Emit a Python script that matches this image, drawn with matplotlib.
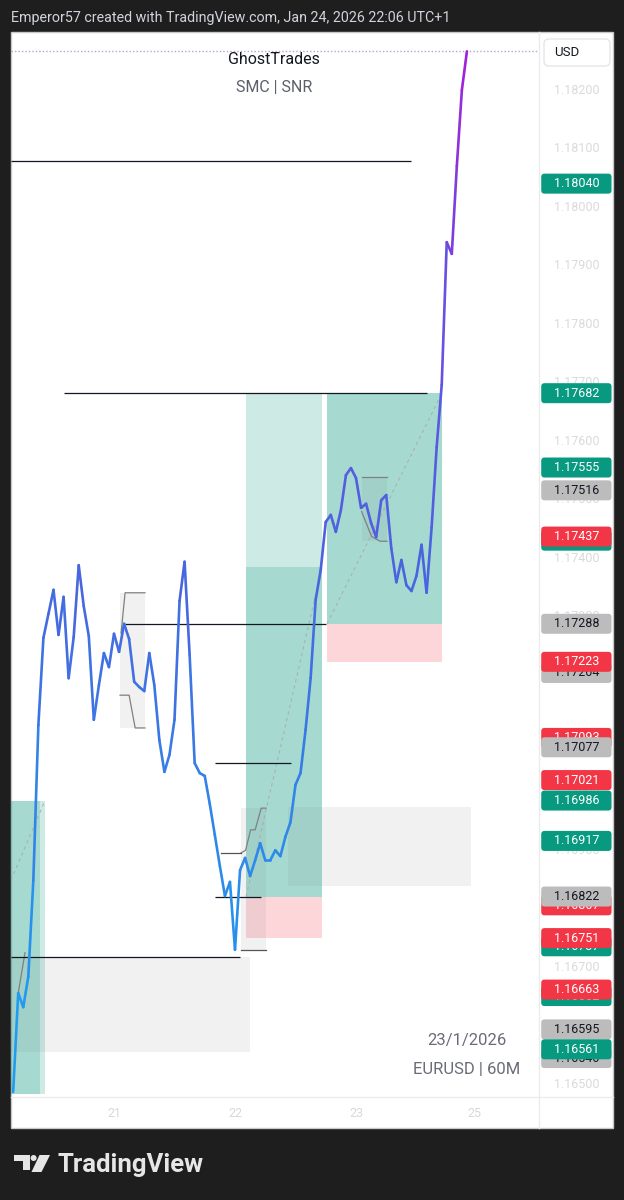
import numpy as np
import matplotlib.pyplot as plt
from matplotlib.collections import LineCollection
from matplotlib.colors import LinearSegmentedColormap, Normalize
from matplotlib.patches import Rectangle, FancyBboxPatch, Circle, Polygon

plt.rcParams['font.family'] = ['Roboto', 'DejaVu Sans']

# EURUSD 60M closes, x = hours counted from the start of Jan 21
hours = list(range(-20, 71))
closes = [1.16488, 1.16657, 1.16633, 1.16685, 1.16850, 1.17115, 1.17264, 1.17305,
          1.17346, 1.17269, 1.17334, 1.17195, 1.17265, 1.17388, 1.17318, 1.17267,
          1.17124, 1.17183, 1.17238, 1.17214, 1.17271, 1.17240, 1.17288, 1.17262,
          1.17189, 1.17180, 1.17173, 1.17238, 1.17183, 1.17089, 1.17035, 1.17064,
          1.17124, 1.17327, 1.17394, 1.17235, 1.17050, 1.17033, 1.17028, 1.16980,
          1.16927, 1.16874, 1.16823, 1.16847, 1.16731, 1.16867, 1.16888, 1.16857,
          1.16884, 1.16913, 1.16884, 1.16884, 1.16901, 1.16891, 1.16924, 1.16949,
          1.17013, 1.17033, 1.17107, 1.17195, 1.17329, 1.17380, 1.17462, 1.17474,
          1.17445, 1.17482, 1.17542, 1.17554, 1.17537, 1.17486, 1.17493, 1.17460,
          1.17436, 1.17499, 1.17508, 1.17417, 1.17359, 1.17397, 1.17354, 1.17344,
          1.17370, 1.17423, 1.17341, 1.17453, 1.17590, 1.17696, 1.17940, 1.17920,
          1.18070, 1.18200, 1.18266]

day_ticks = [0, 24, 48, 71.4]
day_labels = ['21', '22', '23', '25']

# horizontal levels drawn on the chart
level_prices = [1.18079, 1.17682, 1.17288, 1.17050, 1.16822, 1.16719]
level_start = [-20.4, -9.9, 2.2, 20.0, 20.0, -20.4]
level_end = [58.9, 62.1, 42.0, 35.1, 29.2, 25.0]

# long position zones (start hour, end hour, low, high, alpha)
profit_zones = [(26.2, 41.25, 1.17385, 1.17682, 0.2),
                (26.2, 41.25, 1.16822, 1.17385, 0.36),
                (42.25, 65.05, 1.17288, 1.17682, 0.36),
                (-20.43, -14.68, 1.16485, 1.16986, 0.36),
                (-14.68, -13.69, 1.16485, 1.16986, 0.2)]
stop_zones = [(26.2, 41.25, 1.16751, 1.16822),
              (42.25, 65.05, 1.17223, 1.17288)]
# entry -> target dashed guides
guide_x = [(26.2, 41.25), (42.25, 65.05), (-20.43, -13.69)]
guide_p = [(1.16822, 1.17385), (1.17288, 1.17682), (1.16850, 1.16986)]

# grey supply/demand boxes (start, end, low, high)
grey_boxes = [(-20.43, 26.97, 1.16556, 1.16719),
              (34.5, 70.8, 1.16840, 1.16975),
              (1.19, 6.15, 1.17110, 1.17341),
              (25.19, 30.15, 1.16731, 1.16973),
              (49.19, 54.15, 1.17429, 1.17539)]
# small grey step lines inside the boxes
steps_x = [[1.4, 2.2, 6.15], [1.2, 3.0, 4.2, 6.15],
           [25.1, 26.1, 27.1, 28.0, 29.2, 30.15],
           [49.1, 54.15], [49.1, 51.1, 52.8, 54.15], [-19.0, -17.65]]
steps_p = [[1.17272, 1.17341, 1.17341], [1.17166, 1.17166, 1.17110, 1.17110],
           [1.16896, 1.16901, 1.16936, 1.16936, 1.16973, 1.16973],
           [1.17539, 1.17539], [1.17480, 1.17437, 1.17429, 1.17429], [1.16657, 1.16726]]
short_x = [(21.2, 25.1), (25.1, 30.15)]
short_p = [1.16896, 1.16731]

# price scale tags in drawing order (price, kind)
tag_prices = [1.18040, 1.17682, 1.17555, 1.17516, 1.17430, 1.17437, 1.17288, 1.17204,
              1.17223, 1.17093, 1.17077, 1.17021, 1.16986, 1.16917, 1.16807, 1.16822,
              1.16737, 1.16751, 1.16652, 1.16663, 1.16595, 1.16546, 1.16561]
tag_kinds = ['g', 'g', 'g', 'k', 'g', 'r', 'k', 'k', 'r', 'r', 'k', 'r', 'g', 'g', 'r',
             'k', 'g', 'r', 'g', 'r', 'k', 'k', 'g']
scale_ticks = [1.165 + 0.001 * i for i in range(18)]

W, H = 624, 1200
L, R, AX, T, B, PB = 11, 613, 539, 32, 1097, 1128
ppu = 58529          # pixels per 1.0 of price
pxh = 121 / 24       # pixels per hour

def fx(px):
    return px / W

def fy(py):
    return 1 - py / H

fig = plt.figure(figsize=(W / 100, H / 100), dpi=100, facecolor='#1e1e1e')

bg = fig.add_axes([0, 0, 1, 1], zorder=-5)
bg.set_xlim(0, W)
bg.set_ylim(H, 0)
bg.axis('off')
bg.add_patch(Rectangle((L, T), R - L, PB - T, fc='white', ec='#c8c8c8', lw=1))
bg.plot([AX, AX], [T, PB], color='#ebebeb', lw=1)
bg.plot([L, R], [B, B], color='#ebebeb', lw=1)
bg.add_patch(FancyBboxPatch((544, 39), 66, 27, boxstyle='round,pad=0,rounding_size=5',
                            fc='white', ec='#e6e6e6', lw=1))
# TradingView logo
logo = '#e6e6e6'
bg.add_patch(Polygon([(14, 1155), (30, 1155), (30, 1170), (22.5, 1170), (22.5, 1161), (14, 1161)],
                     fc=logo, ec='none'))
bg.add_patch(Circle((33.6, 1158), 3.0, fc=logo, ec='none'))
bg.add_patch(Polygon([(39.5, 1155), (50, 1155), (41.5, 1172), (31.5, 1172)], fc=logo, ec='none'))

ax = fig.add_axes([fx(L), fy(B), fx(AX) - fx(L), fy(T) - fy(B)])
ax.set_facecolor('none')
ymin, ymax = 1.182 - (B - 90) / ppu, 1.182 + (90 - T) / ppu
ax.set_ylim(ymin, ymax)
ax.set_xlim((L - 114) / pxh, (AX - 114) / pxh)
for s in ax.spines.values():
    s.set_visible(False)
ax.set_yticks([])
ax.set_xticks(day_ticks, day_labels)
ax.tick_params(axis='x', length=0, pad=7, labelsize=9, labelcolor='#d8d8d8')

for x0, x1, lo, hi, a in profit_zones:
    ax.add_patch(Rectangle((x0, lo), x1 - x0, hi - lo, fc='#089981', alpha=a, ec='none', zorder=1))
for x0, x1, lo, hi in stop_zones:
    ax.add_patch(Rectangle((x0, lo), x1 - x0, hi - lo, fc='#f23645', alpha=0.2, ec='none', zorder=1))
for x0, x1, lo, hi in grey_boxes:
    ax.add_patch(Rectangle((x0, lo), x1 - x0, hi - lo, fc='#787b86', alpha=0.1, ec='none', zorder=2))
for gx, gp in zip(guide_x, guide_p):
    ax.plot(gx, gp, color='#a8a8a8', lw=0.8, ls=(0, (3, 3)), alpha=0.8, zorder=2)
for sx, sp in zip(steps_x, steps_p):
    ax.plot(sx, sp, color='#808080', lw=0.9, zorder=3)
for (x0, x1), p in zip(short_x, short_p):
    ax.plot([x0, x1], [p, p], color='#555555', lw=0.9, zorder=3)
ax.hlines(level_prices, level_start, level_end, color='#131722', lw=0.9, zorder=3)
ax.axhline(closes[-1], color='#b9a3cc', lw=1, ls=(0, (1, 1.5)), zorder=3)

cmap = LinearSegmentedColormap.from_list('tv', ['#1ea2f2', '#2f87e8', '#4a64de', '#6651e2', '#a41fd6'])
pts = np.column_stack([hours, closes])
segs = np.stack([pts[:-1], pts[1:]], axis=1)
lc = LineCollection(segs, cmap=cmap, norm=Normalize(1.1649, 1.1827), linewidths=1.9,
                    capstyle='round', joinstyle='round', zorder=5)
lc.set_array((pts[:-1, 1] + pts[1:, 1]) / 2)
ax.add_collection(lc)

# price scale
axp = fig.add_axes([fx(AX), fy(B), fx(R) - fx(AX), fy(T) - fy(B)])
axp.set_facecolor('none')
axp.set_ylim(ymin, ymax)
axp.set_xlim(0, 1)
axp.axis('off')
for p in scale_ticks:
    axp.text(0.51, p, f'{p:.5f}', ha='center', va='center', fontsize=9, color='#dadada', zorder=1)
tag_h = 20 / ppu
asp = (R - AX) / ppu
colors = {'g': ('#089981', 'white'), 'r': ('#f23645', 'white'), 'k': ('#bcbcbc', '#131722')}
for i, (p, k) in enumerate(zip(tag_prices, tag_kinds)):
    fc, tc = colors[k]
    axp.add_patch(FancyBboxPatch((0.03, p - tag_h / 2), 0.95, tag_h,
                                 boxstyle='round,pad=0,rounding_size=0.045',
                                 mutation_aspect=asp, fc=fc, ec='none', clip_on=False,
                                 zorder=10 + 2 * i))
    axp.text(0.51, p, f'{p:.5f}', ha='center', va='center', fontsize=9, color=tc,
             clip_on=False, zorder=11 + 2 * i)

fig.text(fx(11), fy(18), 'Emperor57 created with TradingView.com, Jan 24, 2026 22:06 UTC+1',
         color='#d1d4dc', fontsize=10.3, va='center')
fig.text(fx(274), fy(59), 'GhostTrades', color='#131722', fontsize=11.5, ha='center', va='center')
fig.text(fx(274), fy(87), 'SMC | SNR', color='#5d606b', fontsize=11.5, ha='center', va='center')
fig.text(fx(567), fy(52), 'USD', color='#131722', fontsize=9.5, ha='center', va='center')
fig.text(fx(467), fy(1041), '23/1/2026', color='#6a6d78', fontsize=12, ha='center', va='center')
fig.text(fx(467), fy(1069), 'EURUSD | 60M', color='#6a6d78', fontsize=12, ha='center', va='center')
fig.text(fx(58), fy(1172), 'TradingView', color='#e6e6e6', fontsize=18.5, fontweight='bold',
         va='baseline')

fig.savefig('out.png', dpi=100, facecolor=fig.get_facecolor())
